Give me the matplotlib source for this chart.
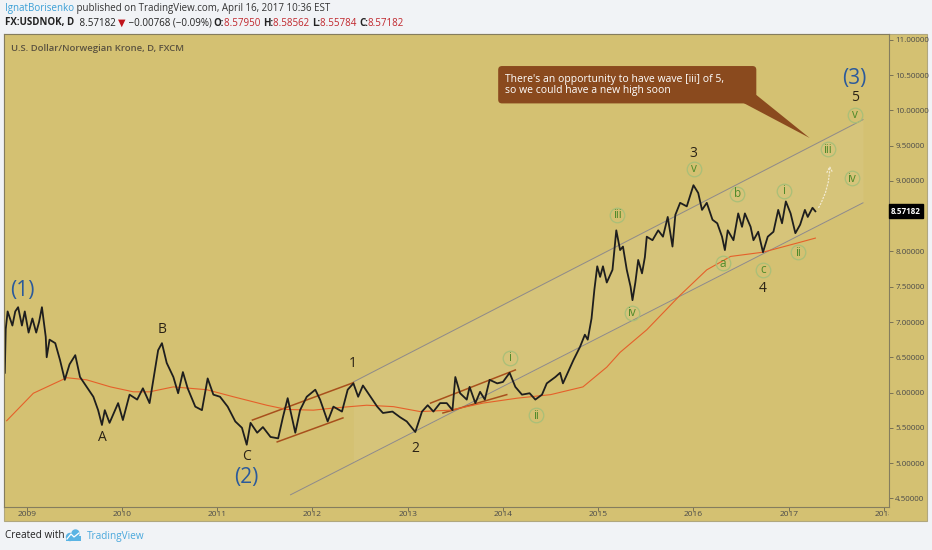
import numpy as np
import matplotlib.pyplot as plt
from matplotlib.patches import Rectangle, FancyBboxPatch, Polygon, Circle
from matplotlib.transforms import blended_transform_factory, Bbox, TransformedBbox

plt.rcParams['font.family'] = ['Open Sans', 'DejaVu Sans']

# USDNOK daily close (decimal year, price)
dates = [2008.77, 2008.78, 2008.80, 2008.85, 2008.88, 2008.91, 2008.95, 2008.98, 2009.02, 2009.06,
         2009.10, 2009.13, 2009.16, 2009.20, 2009.21, 2009.24, 2009.30, 2009.35, 2009.40, 2009.45,
         2009.51, 2009.56, 2009.63, 2009.70, 2009.75, 2009.79, 2009.82, 2009.87, 2009.96, 2010.01,
         2010.08, 2010.16, 2010.22, 2010.29, 2010.33, 2010.38, 2010.42, 2010.47, 2010.54, 2010.59,
         2010.64, 2010.69, 2010.77, 2010.84, 2010.90, 2010.96, 2011.03, 2011.11, 2011.19, 2011.26,
         2011.31, 2011.35, 2011.42, 2011.48, 2011.56, 2011.64, 2011.69, 2011.74, 2011.82, 2011.87,
         2011.94, 2012.03, 2012.08, 2012.16, 2012.22, 2012.31, 2012.37, 2012.43, 2012.48, 2012.53,
         2012.61, 2012.68, 2012.74, 2012.84, 2012.92, 2012.99, 2013.08, 2013.15, 2013.21, 2013.27,
         2013.34, 2013.41, 2013.47, 2013.50, 2013.55, 2013.62, 2013.65, 2013.71, 2013.76, 2013.81,
         2013.86, 2013.94, 2014.00, 2014.07, 2014.13, 2014.20, 2014.28, 2014.34, 2014.41, 2014.46,
         2014.55, 2014.60, 2014.63, 2014.68, 2014.74, 2014.81, 2014.86, 2014.89, 2014.93, 2014.96,
         2014.99, 2015.02, 2015.05, 2015.09, 2015.15, 2015.19, 2015.23, 2015.26, 2015.30, 2015.34,
         2015.36, 2015.39, 2015.42, 2015.46, 2015.49, 2015.51, 2015.57, 2015.63, 2015.68, 2015.73,
         2015.78, 2015.81, 2015.86, 2015.93, 2016.00, 2016.05, 2016.09, 2016.14, 2016.20, 2016.25,
         2016.30, 2016.33, 2016.36, 2016.42, 2016.47, 2016.51, 2016.54, 2016.60, 2016.63, 2016.68,
         2016.73, 2016.78, 2016.84, 2016.89, 2016.93, 2016.97, 2017.02, 2017.07, 2017.12, 2017.17,
         2017.20, 2017.25, 2017.28]
close = [6.28, 6.90, 7.15, 6.95, 7.15, 7.21, 6.95, 7.15, 6.85, 7.05,
         6.85, 7.00, 7.21, 6.79, 6.50, 6.75, 6.70, 6.46, 6.18, 6.40,
         6.53, 6.22, 6.08, 5.94, 5.75, 5.54, 5.75, 5.57, 5.85, 5.61,
         5.97, 5.90, 6.06, 5.85, 6.18, 6.60, 6.70, 6.42, 6.22, 5.99,
         6.29, 6.06, 5.80, 5.75, 6.20, 5.97, 5.94, 5.80, 5.59, 5.50,
         5.26, 5.57, 5.43, 5.51, 5.37, 5.35, 5.65, 5.92, 5.43, 5.75,
         5.94, 6.04, 5.90, 5.59, 5.80, 5.73, 6.04, 6.13, 5.94, 6.10,
         5.94, 5.80, 5.71, 5.73, 5.65, 5.59, 5.44, 5.73, 5.82, 5.73,
         5.85, 5.85, 5.75, 6.22, 5.99, 5.90, 6.08, 5.85, 6.01, 5.90,
         6.18, 6.13, 6.15, 6.28, 6.08, 5.97, 5.99, 5.90, 5.97, 6.13,
         6.22, 6.28, 6.13, 6.28, 6.46, 6.65, 6.82, 6.75, 7.05, 7.46,
         7.79, 7.64, 7.79, 7.56, 7.74, 8.30, 8.02, 8.07, 7.74, 7.50,
         7.31, 7.56, 7.88, 7.69, 7.92, 8.21, 8.16, 8.30, 8.21, 8.49,
         8.07, 8.52, 8.69, 8.64, 8.94, 8.83, 8.59, 8.69, 8.45, 8.40,
         8.21, 8.02, 8.30, 8.16, 8.54, 8.35, 8.54, 8.35, 8.16, 8.28,
         7.99, 8.21, 8.28, 8.59, 8.40, 8.71, 8.54, 8.26, 8.38, 8.59,
         8.49, 8.62, 8.57]

# moving average (orange line)
ma_dates = [2008.79, 2009.07, 2009.42, 2009.63, 2009.88, 2010.12, 2010.29, 2010.54, 2010.89, 2011.17,
            2011.52, 2011.73, 2012.01, 2012.22, 2012.57, 2012.85, 2013.13, 2013.45, 2013.79, 2014.15,
            2014.50, 2014.84, 2015.09, 2015.23, 2015.51, 2015.86, 2016.14, 2016.39, 2016.73, 2017.09,
            2017.28]
ma_vals = [5.60, 5.99, 6.21, 6.18, 6.08, 6.01, 6.01, 6.08, 6.04, 5.94,
           5.82, 5.76, 5.75, 5.78, 5.82, 5.80, 5.73, 5.75, 5.85, 5.92,
           5.97, 6.08, 6.36, 6.57, 6.89, 7.38, 7.74, 7.93, 7.99, 8.12,
           8.19]

# big channel (start, end)
chan_low_x = [2011.77, 2017.78]
chan_low_y = [4.55, 8.69]
chan_up_x = [2012.43, 2017.78]
chan_up_y = [6.15, 9.87]

# small red channels
red_lines = [([2011.37, 2012.43], [5.61, 6.14]),
             ([2011.63, 2012.32], [5.30, 5.64]),
             ([2013.24, 2014.13], [5.85, 6.32]),
             ([2013.37, 2014.04], [5.71, 5.97])]

# wave labels
big_labels = ['(1)', '(2)', '(3)']
big_x = [2008.95, 2011.31, 2017.69]
big_y = [7.44, 4.80, 10.46]
wave_labels = ['A', 'B', 'C', '1', '2', '3', '4', '5']
wave_x = [2009.79, 2010.42, 2011.31, 2012.42, 2013.08, 2016.00, 2016.73, 2017.70]
wave_y = [5.36, 6.89, 5.09, 6.41, 5.21, 9.39, 7.47, 10.19]
sub_labels = ['i', 'ii', 'iii', 'iv', 'v', 'a', 'b', 'c', 'i', 'ii', 'iii', 'iv', 'v']
sub_x = [2014.07, 2014.35, 2015.20, 2015.35, 2016.01, 2016.31, 2016.46, 2016.73, 2016.95, 2017.10,
         2017.41, 2017.66, 2017.70]
sub_y = [6.49, 5.68, 8.52, 7.13, 9.17, 7.83, 8.82, 7.74, 8.86, 7.99, 9.45, 9.04, 9.94]

years = list(range(2009, 2019))
yticks = np.arange(4.5, 11.01, 0.5)
last_price = 8.57182

W, H = 932, 550
BG = '#d4c172'
PAGE = '#f1f3f6'

fig = plt.figure(figsize=(W / 100, H / 100), dpi=100, facecolor=PAGE)

# pixel-space layer for frame, header, footer
bgax = fig.add_axes([0, 0, 1, 1])
bgax.set_xlim(0, W)
bgax.set_ylim(H, 0)
bgax.axis('off')
bgax.add_patch(Rectangle((4, 34), 923, 487, fc=BG, ec='#b0a77e', lw=0.8))

ax = fig.add_axes([4.3 / W, 1 - 506.7 / H, (889 - 4.3) / W, (506.7 - 34.3) / H])
ax.set_facecolor(BG)
ax.set_xlim(2008.765, 2018.053)
ax.set_ylim(4.381, 11.08)
for s in ax.spines.values():
    s.set_color('#857d5e')
    s.set_linewidth(0.8)

# channel fill + lines
fx = np.array(chan_up_x)
lo_at = np.interp(fx, chan_low_x, chan_low_y)
ax.fill_between(fx, lo_at, chan_up_y, color='white', alpha=0.06, lw=0)
ax.plot(chan_low_x, chan_low_y, color='#8e8a8c', lw=0.7)
ax.plot(chan_up_x, chan_up_y, color='#8e8a8c', lw=0.7)
for xs, ys in red_lines:
    ax.plot(xs, ys, color='#a8501c', lw=1.1)

ax.plot(ma_dates, ma_vals, color='#e5602a', lw=0.8)
ax.plot(dates, close, color='#1e1e1e', lw=1.3)

# labels
for t, x, y in zip(big_labels, big_x, big_y):
    ax.text(x, y, t, color='#2b5a9b', fontsize=15, ha='center', va='center')
for t, x, y in zip(wave_labels, wave_x, wave_y):
    ax.text(x, y, t, color='#2a2216', fontsize=10, ha='center', va='center')
ax.plot(sub_x, sub_y, 'o', ms=10.5, mfc='none', mec='#a9bf78', mew=0.9)
for t, x, y in zip(sub_labels, sub_x, sub_y):
    ax.text(x, y, t, color='#4f8a2a', fontsize=8.5, ha='center', va='center')

# dotted projection arrow
ax.annotate('', xy=(2017.43, 9.26), xytext=(2017.30, 8.59),
            arrowprops=dict(arrowstyle='->', ls=':', color='#f2ead0', lw=0.9,
                            connectionstyle='arc3,rad=0.15'))

# callout
brown = '#8a4a1e'
ax.add_patch(Polygon([(2016.52, 10.11), (2016.66, 10.22), (2017.22, 9.61)], closed=True,
                     fc=brown, ec='none'))
ax.add_patch(FancyBboxPatch((2013.95, 10.10), 2.71, 0.53,
                            boxstyle='round,pad=0,rounding_size=0.04', mutation_aspect=1.35,
                            fc=brown, ec='none'))
ax.text(2014.02, 10.365, "There's an opportunity to have wave [iii] of 5,\nso we could have a new high soon",
        color='white', fontsize=7.5, va='center', ha='left', linespacing=1.0)

ax.text(0.008, 0.97, 'U.S. Dollar/Norwegian Krone, D, FXCM', transform=ax.transAxes,
        fontsize=6.8, color='#5a5240', fontweight='semibold', va='center', ha='left')

# y axis on the right (8.5 label sits under the last-price box)
ax.yaxis.tick_right()
ax.set_yticks(yticks)
ax.set_yticklabels(['' if abs(v - 8.5) < 1e-9 else f'{v:.5f}' for v in yticks])
ax.tick_params(axis='y', direction='out', length=3, width=0.6, pad=1.5, labelsize=5.8,
               labelcolor='#4a4a4a', color='#6a6450')
ax.set_xticks(years)
ax.set_xticklabels([])
ax.tick_params(axis='x', direction='out', length=3, width=0.6, color='#6a6450')
bt = blended_transform_factory(ax.transData, ax.transAxes)
clip = TransformedBbox(Bbox.from_extents(0, -0.1, 1, 1), ax.transAxes)
for yr in years:
    t = ax.text(yr, -0.0155, str(yr), transform=bt, fontsize=6, color='#4a4a4a',
                ha='center', va='center', clip_on=True)
    t.set_clip_box(clip)

ax.annotate(f'{last_price:.5f}', xy=(1, last_price),
            xycoords=blended_transform_factory(ax.transAxes, ax.transData),
            xytext=(1.5, 0), textcoords='offset points', va='center', ha='left',
            fontsize=5.8, color='white', fontweight='bold',
            bbox=dict(boxstyle='square,pad=0.3', fc='black', ec='black'))

# header
t1 = bgax.text(5, 9, 'IgnatBorisenko', color='#3a9fd6', fontsize=7, va='center', ha='left')
bgax.annotate(' published on TradingView.com, April 16, 2017 10:36 EST', xy=(1, 0.5),
              xycoords=t1, va='center', ha='left', fontsize=7, color='#333333')
parts = [('FX:USDNOK, D ', '#222222', 'bold'), (' 8.57182 ', '#222222', 'normal'),
         ('▼', '#c0141c', 'normal'), (' −0.00768 (−0.09%) ', '#222222', 'normal'),
         ('O:', '#222222', 'bold'), ('8.57950 ', '#c0262c', 'normal'),
         ('H:', '#222222', 'bold'), ('8.58562 ', '#c0262c', 'normal'),
         ('L:', '#222222', 'bold'), ('8.55784 ', '#c0262c', 'normal'),
         ('C:', '#222222', 'bold'), ('8.57182', '#c0262c', 'normal')]
prev = None
for txt, col, wt in parts:
    if prev is None:
        prev = bgax.text(5, 23, txt, color=col, fontsize=7, fontweight=wt, va='center', ha='left')
    else:
        prev = bgax.annotate(txt, xy=(1, 0.5), xycoords=prev, va='center', ha='left',
                             fontsize=7, color=col, fontweight=wt)

# footer
bgax.text(5, 536, 'Created with', color='#222222', fontsize=7.2, va='center', ha='left')
bgax.add_patch(Circle((70, 537), 4.2, fc='#5ab4e4', ec='none'))
bgax.add_patch(Circle((75.5, 533.5), 4.2, fc='#5ab4e4', ec='none'))
bgax.add_patch(Rectangle((66, 536), 15, 5, fc='#5ab4e4', ec='none'))
bgax.plot([67, 71, 74, 79], [539, 534, 537, 533], color='white', lw=0.9)
bgax.text(87, 536, 'TradingView', color='#4aa8dc', fontsize=7.2, va='center', ha='left')

fig.savefig('out.png', dpi=100, facecolor=PAGE)
